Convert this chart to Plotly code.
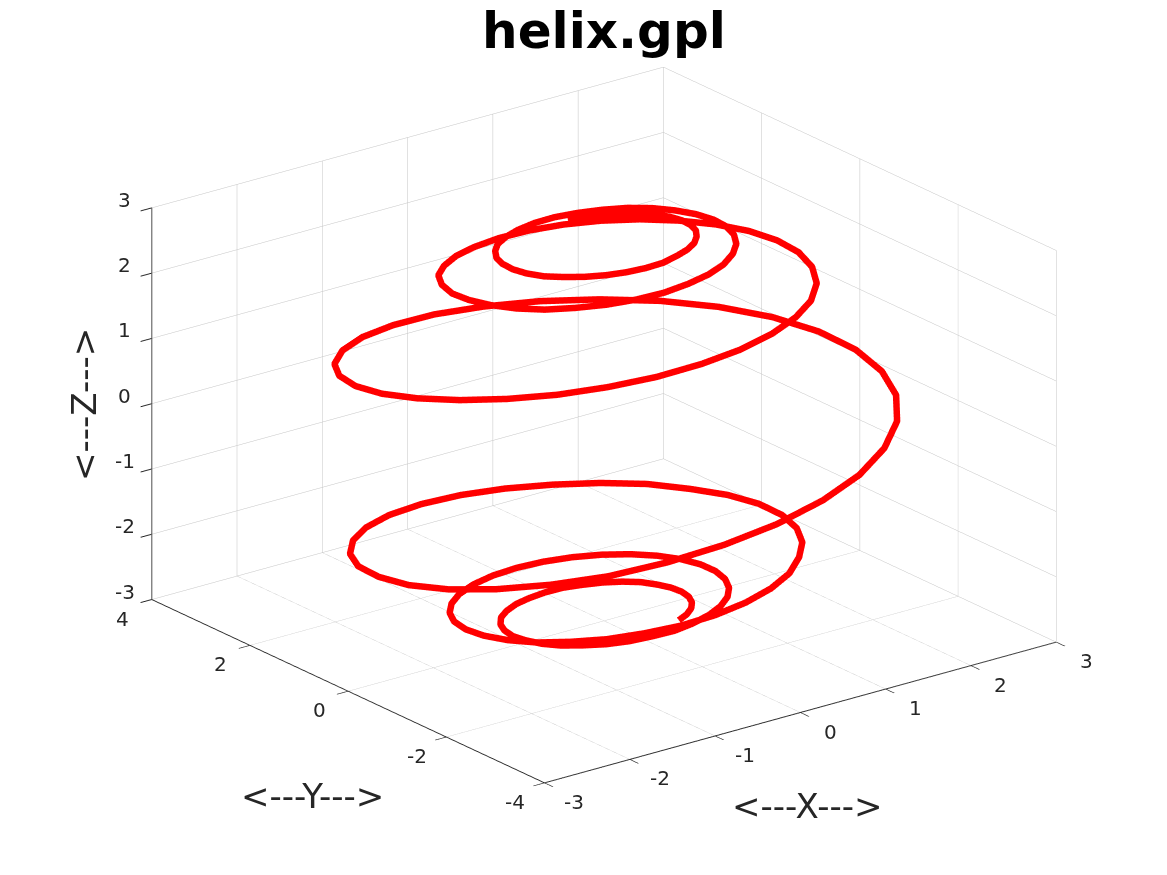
import math
import plotly.graph_objects as go

angle_deg = list(range(-1139, 1166, 12))
radius = [0.87,0.88,
0.89,0.90,0.91,0.92,0.93,0.94,0.95,0.96,0.97,0.98,0.99,1.00,1.01,1.02,1.035,
1.05,1.06,1.07,1.08,1.09,1.10,1.12,1.13,1.14,1.16,1.17,1.19,1.20,1.22,1.24,
1.26,1.28,1.30,1.32,1.34,1.36,1.38,1.40,1.42,1.44,1.46,1.48,1.50,1.52,1.54,
1.555,1.58,1.61,1.64,1.67,1.70,1.73,1.76,1.79,1.82,1.85,1.88,1.91,1.94,1.97,
1.99,2.03,2.07,2.11,2.15,2.19,2.23,2.27,2.31,2.35,2.38,2.42,2.46,2.50,2.53,
2.56,2.60,2.64,2.67,2.71,2.74,2.78,2.81,2.84,2.87,2.90,2.92,2.95,2.97,2.98,
2.99,2.99,2.985,2.985,2.985,2.98,2.97,2.96,2.94,2.92,2.90,2.87,2.84,2.81,2.78,
2.75,2.71,2.67,2.63,2.59,2.55,2.51,2.47,2.43,2.39,2.35,2.31,2.27,2.23,2.20,
2.17,2.13,2.09,2.05,2.01,1.97,1.93,1.90,1.87,1.84,1.81,1.78,1.75,1.72,1.70,
1.69,1.66,1.63,1.60,1.57,1.55,1.53,1.51,1.49,1.47,1.45,1.43,1.41,1.39,1.37,
1.35,1.33,1.31,1.30,1.28,1.26,1.25,1.23,1.22,1.20,1.19,1.17,1.16,1.14,1.13,
1.11,1.10,1.09,1.08,1.07,1.06,1.05,1.04,1.03,1.02,1.01,1.00,0.98,0.97,0.96,
0.945,0.94,0.93,0.92,0.91,0.90,0.89,0.88,0.875,0.87,0.865]
height = [-2.89,-2.89,
-2.89,-2.89,-2.89,-2.89,-2.89,-2.89,-2.88,-2.88,-2.88,-2.88,-2.87,-2.87,-2.87,-2.86,-2.86,
-2.85,-2.85,-2.84,-2.84,-2.83,-2.83,-2.82,-2.81,-2.81,-2.80,-2.79,-2.79,-2.78,-2.77,-2.76,
-2.75,-2.74,-2.73,-2.72,-2.71,-2.70,-2.69,-2.68,-2.67,-2.66,-2.65,-2.64,-2.63,-2.62,-2.61,
-2.59,-2.57,-2.55,-2.53,-2.51,-2.49,-2.47,-2.44,-2.42,-2.39,-2.37,-2.34,-2.31,-2.28,-2.25,
-2.21,-2.19,-2.17,-2.15,-2.13,-2.11,-2.09,-2.04,-2.00,-1.95,-1.88,-1.81,-1.74,-1.67,-1.60,
-1.53,-1.47,-1.41,-1.35,-1.29,-1.22,-1.13,-1.04,-0.95,-0.84,-0.73,-0.63,-0.52,-0.42,-0.32,
-0.22,-0.12,-0.03,0.06,0.15,0.24,0.33,0.42,0.51,0.61,0.71,0.82,0.92,1.02,1.11,
1.19,1.28,1.36,1.44,1.52,1.59,1.65,1.70,1.75,1.79,1.83,1.86,1.89,1.91,1.93,
1.97,2.01,2.05,2.08,2.11,2.14,2.17,2.20,2.23,2.26,2.29,2.32,2.35,2.39,2.42,
2.45,2.47,2.48,2.50,2.51,2.52,2.53,2.55,2.56,2.57,2.58,2.60,2.61,2.62,2.64,
2.65,2.66,2.67,2.67,2.68,2.69,2.70,2.71,2.71,2.72,2.73,2.74,2.74,2.75,2.76,
2.77,2.77,2.78,2.78,2.78,2.78,2.79,2.79,2.79,2.79,2.79,2.79,2.80,2.80,2.80,
2.80,2.80,2.80,2.80,2.80,2.80,2.80,2.80,2.80,2.80,2.80]
x_ticks = [-3,-2,-1,0,1,2,3]
y_ticks = [-4,-2,0,2,4]
z_ticks = [-3,-2,-1,0,1,2,3]
title_text = "helix.gpl"
x_label, y_label, z_label = "<---X--->", "<---Y--->", "<---Z--->"

xs = [r*math.cos(math.radians(a)) for r, a in zip(radius, angle_deg)]
ys = [r*math.sin(math.radians(a)) for r, a in zip(radius, angle_deg)]

INK = "#262626"
W, H = 1159, 867   # page body adds an 8 px margin

fig = go.Figure(go.Scatter3d(x=xs, y=ys, z=height, mode="lines",
                             line=dict(color="#ff0000", width=13), hoverinfo="skip"))

def ax(rng, ticks):
    return dict(range=rng, tickmode="array", tickvals=ticks, showticklabels=False,
                title=dict(text=""), showbackground=False, showgrid=True, gridcolor="#c4c4c4", gridwidth=1,
                showline=True, linecolor=INK, linewidth=2, ticks="outside", ticklen=14,
                tickcolor=INK, tickwidth=2, zeroline=False, showspikes=False)

tick_font = dict(family="DejaVu Sans", size=20, color=INK)
scene_notes = []
for t in x_ticks:
    scene_notes.append(dict(x=t, y=-4, z=-3, text=str(t), showarrow=False, xshift=30, yshift=-19, font=tick_font))
for t in y_ticks:
    scene_notes.append(dict(x=-3, y=t, z=-3, text=str(t), showarrow=False, xshift=-29, yshift=-19, font=tick_font))
for t in z_ticks:
    scene_notes.append(dict(x=-3, y=4, z=t, text=str(t), showarrow=False, xshift=-27, yshift=8, font=tick_font))

def note(text, px, py, angle=0):
    return dict(text=text, x=(px-8)/W, y=1-(py-8)/H, xref="paper", yref="paper", showarrow=False,
                xanchor="center", yanchor="middle", textangle=angle,
                font=dict(family="DejaVu Sans", size=34, color=INK))

fig.update_layout(
    width=W, height=H, paper_bgcolor="white", showlegend=False,
    margin=dict(l=0, r=0, t=0, b=0),
    title=dict(text=title_text, x=0.5142, xanchor="center", y=0.974, yanchor="middle",
               font=dict(family="DejaVu Sans", size=50, color="black", weight="bold")),
    scene=dict(
        domain=dict(x=[0.0284, 1.0], y=[0.038, 1.0]),
        xaxis=ax([-3, 3], x_ticks), yaxis=ax([-4, 4], y_ticks), zaxis=ax([-3, 3], z_ticks),
        aspectmode="manual", aspectratio=dict(x=1.547, y=1.547, z=1.006),
        camera=dict(projection=dict(type="orthographic"), up=dict(x=0, y=0, z=1),
                    center=dict(x=0, y=0, z=0), eye=dict(x=-1.136, y=-1.48, z=0.716)),
        annotations=scene_notes,
    ),
    annotations=[note(x_label, 807, 806), note(y_label, 312, 796), note(z_label, 84, 405, -90)],
)
fig.write_html("out.html")
